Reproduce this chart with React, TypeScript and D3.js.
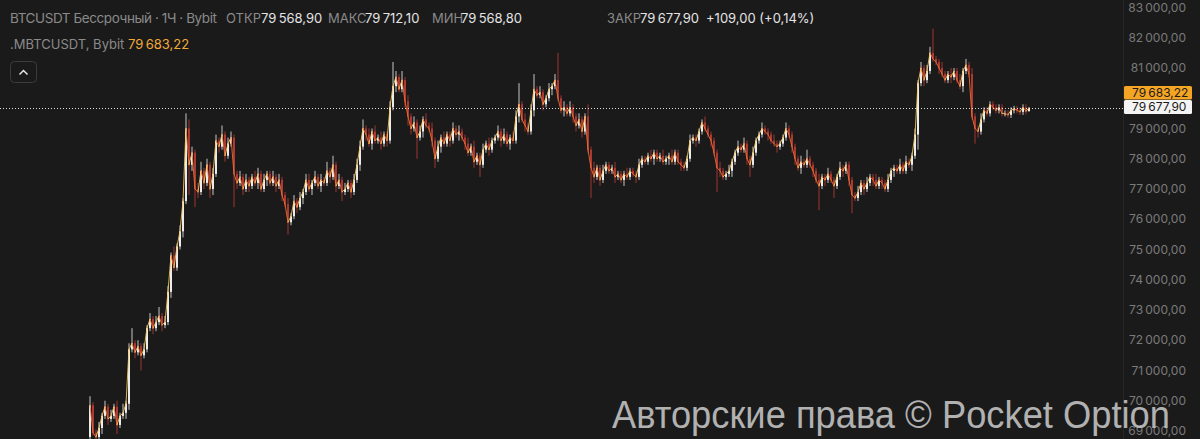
import React, { useEffect } from "react";
import * as d3 from "d3";

// Hourly closes (thousands USD)
const closeK = [
  69.85, 68.95, 68.8, 69.1, 69.5, 69.8, 69.4, 69.5, 69.8, 69.2,
  69.5, 69.6, 69.9, 71.7, 71.9, 71.6, 71.8, 71.5, 71.7, 72.4,
  72.7, 72.4, 72.6, 72.8, 72.5, 72.6, 73.6, 74.8, 74.4, 75.1,
  75.6, 76.6, 79.0, 77.8, 78.2, 77.0, 76.9, 77.6, 77.2, 77.8,
  77.0, 77.5, 78.6, 78.4, 78.8, 78.1, 78.5, 78.7, 77.5, 77.2,
  77.4, 77.0, 77.3, 77.1, 77.4, 77.2, 77.5, 77.0, 77.3, 77.5,
  77.2, 77.4, 77.1, 77.3, 76.8, 76.5, 75.9, 76.1, 76.6, 76.4,
  76.7, 76.9, 77.3, 77.0, 77.2, 77.4, 77.1, 77.3, 77.2, 77.6,
  77.4, 77.8, 77.1, 77.3, 76.9, 77.0, 77.2, 76.9, 77.3, 77.8,
  78.4, 79.0, 78.8, 78.5, 78.9, 78.6, 78.7, 78.5, 78.8, 78.6,
  79.7, 80.4, 80.7, 80.3, 80.6, 79.9, 79.4, 79.0, 79.2, 78.7,
  78.9, 79.3, 79.1, 79.0, 78.6, 78.0, 78.4, 78.7, 78.5, 78.8,
  78.6, 79.0, 78.8, 78.9, 78.7, 78.5, 78.2, 78.4, 77.9, 78.1,
  77.8, 78.3, 78.5, 78.3, 78.6, 78.7, 78.9, 78.6, 78.8, 78.5,
  78.7, 78.6, 79.4, 79.8, 79.3, 79.1, 78.9, 79.6, 80.3, 80.1,
  80.2, 79.8, 80.0, 80.3, 80.4, 80.6, 80.0, 79.6, 79.7, 79.5,
  79.7, 79.4, 79.1, 79.3, 78.9, 79.4, 78.3, 77.7, 77.4, 77.7,
  77.3, 77.6, 77.8, 77.6, 77.7, 77.4, 77.5, 77.3, 77.5, 77.4,
  77.6, 77.5, 77.4, 77.8, 78.0, 77.9, 78.1, 78.0, 78.2, 78.0,
  78.1, 77.9, 78.0, 78.1, 77.9, 78.2, 77.9, 77.8, 77.7, 78.0,
  78.6, 78.7, 78.6, 78.9, 79.2, 79.0, 78.8, 78.6, 78.2, 77.7,
  77.6, 77.4, 77.5, 77.6, 77.9, 78.2, 78.4, 78.3, 78.5, 78.0,
  77.8, 78.2, 78.6, 78.8, 79.0, 78.9, 78.8, 78.6, 78.5, 78.4,
  78.5, 78.7, 79.0, 78.8, 78.4, 78.0, 77.7, 77.9, 77.8, 78.0,
  77.8, 77.6, 77.3, 77.1, 77.4, 77.3, 77.5, 77.3, 77.1, 77.4,
  77.7, 77.6, 77.8, 77.3, 76.8, 76.7, 76.9, 77.2, 77.0, 77.2,
  77.4, 77.3, 77.1, 77.3, 77.2, 77.0, 77.3, 77.6, 77.7, 77.6,
  77.8, 77.6, 77.9, 77.8, 78.1, 78.8, 80.5, 81.0, 80.6, 80.9,
  81.5, 81.3, 81.2, 81.0, 80.8, 80.6, 80.8, 80.7, 80.9, 80.6,
  80.4, 80.9, 81.1, 80.8, 79.4, 79.0, 78.9, 79.3, 79.6, 79.5,
  79.8, 79.7, 79.6, 79.7, 79.5, 79.5, 79.45, 79.6, 79.65, 79.6,
  79.55, 79.7, 79.5689, 79.6779,
];
const firstOpen = 68800;

// Upper / lower wick lengths beyond the body (hundreds of USD)
const wickUp = [
  3, 1, 1, 2, 1, 2, 1, 2, 1, 2,
  1, 3, 1, 2, 5, 1, 2, 1, 2, 1,
  2, 1, 2, 3, 1, 2, 2, 1, 3, 1,
  2, 1, 5, 3, 2, 1, 2, 3, 1, 2,
  1, 2, 2, 1, 3, 1, 2, 2, 1, 1,
  2, 1, 2, 1, 1, 2, 2, 1, 2, 1,
  1, 2, 1, 2, 1, 1, 2, 1, 2, 1,
  2, 1, 2, 2, 1, 2, 1, 2, 1, 3,
  1, 3, 1, 2, 1, 2, 1, 1, 2, 2,
  2, 3, 1, 2, 1, 2, 1, 2, 1, 1,
  2, 8, 2, 1, 3, 1, 2, 1, 2, 1,
  2, 1, 2, 1, 2, 1, 2, 1, 2, 1,
  1, 2, 1, 2, 1, 1, 2, 1, 2, 1,
  1, 2, 1, 2, 1, 1, 2, 1, 2, 1,
  1, 2, 2, 7, 1, 2, 1, 2, 5, 1,
  2, 1, 1, 2, 1, 2, 9, 1, 2, 1,
  2, 1, 1, 2, 1, 1, 4, 1, 2, 1,
  1, 2, 1, 1, 1, 2, 1, 1, 1, 2,
  1, 1, 1, 2, 1, 1, 1, 2, 1, 1,
  1, 2, 1, 1, 2, 1, 1, 1, 1, 1,
  2, 1, 1, 1, 1, 2, 1, 1, 1, 1,
  2, 1, 1, 2, 1, 1, 2, 1, 2, 1,
  1, 2, 1, 1, 2, 1, 1, 1, 2, 1,
  1, 1, 2, 1, 1, 1, 1, 2, 1, 3,
  1, 1, 1, 2, 1, 1, 2, 1, 1, 1,
  2, 1, 1, 1, 1, 1, 2, 1, 1, 2,
  1, 1, 2, 1, 1, 1, 2, 1, 1, 1,
  2, 1, 2, 1, 1, 2, 1, 2, 1, 2,
  2, 8, 1, 1, 2, 1, 1, 2, 1, 1,
  2, 1, 2, 1, 2, 1, 1, 2, 1, 1,
  1, 1, 1, 1, 1, 1, 1, 1, 1, 1,
  1, 1, 1, 0.34,
];
const wickDn = [
  1, 1, 1, 1, 2, 1, 2, 1, 1, 3,
  1, 1, 2, 2, 1, 2, 1, 5, 1, 1,
  1, 2, 1, 1, 2, 1, 1, 2, 1, 1,
  1, 2, 1, 10, 2, 6, 2, 1, 2, 1,
  3, 2, 1, 2, 1, 2, 1, 1, 11, 2,
  1, 2, 1, 2, 1, 1, 2, 1, 1, 2,
  1, 1, 2, 1, 2, 1, 4, 1, 1, 2,
  1, 2, 1, 1, 2, 1, 1, 2, 1, 1,
  2, 1, 2, 1, 3, 1, 1, 2, 1, 1,
  2, 1, 2, 1, 2, 1, 1, 2, 1, 2,
  1, 1, 2, 1, 1, 2, 3, 2, 1, 7,
  1, 2, 1, 1, 2, 3, 1, 2, 1, 1,
  2, 1, 1, 2, 1, 2, 1, 1, 2, 1,
  4, 1, 1, 2, 1, 1, 1, 2, 1, 1,
  2, 1, 1, 2, 1, 2, 1, 1, 2, 1,
  1, 2, 1, 1, 2, 1, 1, 1, 2, 1,
  1, 2, 2, 1, 2, 1, 1, 10, 2, 1,
  2, 1, 1, 1, 1, 2, 1, 1, 2, 1,
  1, 1, 2, 1, 1, 1, 1, 1, 2, 1,
  1, 1, 1, 2, 1, 1, 1, 2, 1, 1,
  1, 1, 2, 1, 1, 1, 1, 2, 1, 8,
  2, 1, 1, 1, 2, 1, 1, 1, 1, 2,
  4, 1, 1, 1, 1, 1, 2, 1, 1, 2,
  1, 1, 1, 1, 2, 2, 1, 2, 1, 1,
  1, 2, 1, 8, 1, 2, 1, 1, 4, 1,
  1, 2, 1, 2, 6, 1, 1, 1, 2, 1,
  1, 2, 1, 1, 2, 1, 1, 1, 2, 1,
  1, 1, 1, 1, 2, 1, 5, 1, 2, 1,
  1, 1, 1, 2, 1, 1, 1, 2, 1, 1,
  1, 2, 1, 1, 1, 5, 2, 1, 1, 1,
  1, 1, 1, 1, 1, 1, 1, 1, 1, 1,
  1, 1, 1, 0,
];

// 80 000,00 is hidden behind the price boxes in the reference
const yTicks = [69000, 70000, 71000, 72000, 73000, 74000, 75000, 76000, 77000, 78000, 79000, 81000, 82000, 83000];
const lastClose = 79677.9;
const markPrice = 79683.22;

const headerLabels = ["ОТКР", "МАКС", "МИН", "ЗАКР"];
const headerValues = ["79\u2009568,90", "79\u2009712,10", "79\u2009568,80", "79\u2009677,90"];
const headerLabelX = [226, 328, 432, 607];
const headerValueX = [261, 365, 461, 640];

const fmt = d3.formatLocale({ decimal: ",", thousands: "\u2009", grouping: [3], currency: ["", ""] }).format(",.2f");

export default function App() {
  useEffect(() => {
    document.body.style.margin = "0";
    document.body.style.background = "#1a1a1a";
  }, []);
  const W = 1200, H = 439;
  const plotRight = 1123;
  const n = closeK.length;
  const x = d3.scaleLinear().domain([0, n - 1]).range([90, 1029]);
  const y = d3.scaleLinear().domain([69000, 83000]).range([431, 7.5]);
  const candles = closeK.map((c, i) => {
    const close = c * 1000;
    const open = i === 0 ? firstOpen : closeK[i - 1] * 1000;
    const high = Math.max(open, close) + wickUp[i] * 100;
    const low = Math.min(open, close) - wickDn[i] * 100;
    return { i, open, close, high, low, up: close >= open };
  });
  const font = "Inter, 'Noto Sans', sans-serif";
  const gray = "#8a8a8a";
  const white = "#e4e4e4";

  return (
    <svg width={W} height={H} style={{ position: "absolute", left: 0, top: 0, display: "block" }}>
      <defs>
        <clipPath id="plot"><rect x={0} y={0} width={plotRight} height={H} /></clipPath>
      </defs>
      <rect x={0} y={0} width={W} height={H} fill="#1a1a1a" />
      <line x1={plotRight + 0.5} x2={plotRight + 0.5} y1={0} y2={H} stroke="#262626" />

      <g clipPath="url(#plot)">
        {candles.map((d) => {
          const xi = Math.round(x(d.i));
          const col = d.up ? "#f2f2f2" : "#b63c34";
          const top = y(Math.max(d.open, d.close));
          const bot = y(Math.min(d.open, d.close));
          return (
            <g key={d.i}>
              <rect x={xi - 0.5} width={1} y={y(d.high)} height={Math.max(1, y(d.low) - y(d.high))} fill={col} opacity={d.up ? 0.8 : 0.85} />
              <rect x={xi - 1} width={2} y={top} height={Math.max(1, bot - top)} fill={col} opacity={d.up ? 0.95 : 0.9} />
            </g>
          );
        })}
        {candles.slice(1).map((d) => {
          const p = closeK[d.i - 1] * 1000;
          return (
            <line key={"m" + d.i} x1={x(d.i - 1)} y1={y(p)} x2={x(d.i)} y2={y(d.close)}
              stroke={d.close >= p ? "#f5c45a" : "#ec6f32"} strokeWidth={1} strokeOpacity={0.9} strokeLinecap="round" />
          );
        })}
        <line x1={0} x2={plotRight} y1={Math.round(y(lastClose)) + 0.5} y2={Math.round(y(lastClose)) + 0.5}
          stroke="#ffffff" strokeDasharray="1,2" opacity={0.85} />
      </g>

      {yTicks.map((t) => (
        <text key={t} x={1186} y={y(t)} dy="0.35em" textAnchor="end" fill="#7a7a7a" fontSize={12} fontFamily={font}>
          {fmt(t)}
        </text>
      ))}

      <rect x={1124} y={86} width={68} height={13.5} rx={1.5} fill="#f5a524" />
      <text x={1132} y={92.8} dy="0.35em" fill="#1a1a1a" fontSize={12} fontFamily={font}>{fmt(markPrice)}</text>
      <rect x={1124} y={100} width={68} height={14} rx={1.5} fill="#f4f4f4" />
      <text x={1132} y={107} dy="0.35em" fill="#1a1a1a" fontSize={12} fontFamily={font}>{fmt(lastClose)}</text>

      <text x={10} y={23} fill={gray} fontSize={13.5} fontFamily={font} textLength={207} lengthAdjust="spacing">BTCUSDT Бессрочный · 1Ч · Bybit</text>
      {headerLabels.map((l, k) => (
        <g key={l}>
          <text x={headerLabelX[k]} y={23} fill={gray} fontSize={13} fontFamily={font}>{l}</text>
          <text x={headerValueX[k]} y={23} fill={white} fontSize={13} fontFamily={font}>{headerValues[k]}</text>
        </g>
      ))}
      <text x={706} y={23} fill={white} fontSize={13} fontFamily={font}>+109,00 (+0,14%)</text>
      <text x={10} y={49} fill={gray} fontSize={13} fontFamily={font}>.MBTCUSDT, Bybit</text>
      <text x={128} y={49} fill="#f2a93b" fontSize={13} fontFamily={font}>{fmt(markPrice)}</text>

      <rect x={10.5} y={61.5} width={26} height={21} rx={4} fill="none" stroke="#3c3c3c" />
      <path d="M19.5 74.5 L23.5 70.5 L27.5 74.5" fill="none" stroke="#e8e8e8" strokeWidth={1.5} />

      <text x={612} y={428} fill="#cccccc" opacity={0.85} fontSize={38} fontFamily="'Liberation Sans', Arial, sans-serif"
        textLength={558} lengthAdjust="spacingAndGlyphs">Авторские права © Pocket Option</text>
    </svg>
  );
}
